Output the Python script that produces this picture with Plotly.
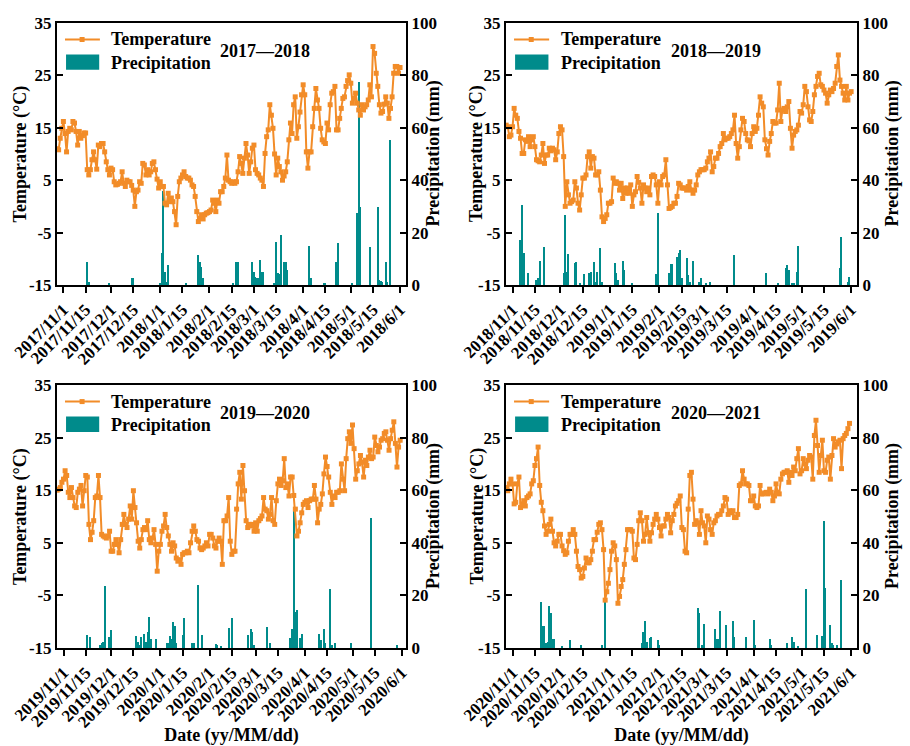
import pandas as pd
import plotly.graph_objects as go

FONT = "Liberation Serif"
ORANGE = "#F28C28"
TEAL = "#008B8B"

# ---------------- data ----------------
season_labels = ["2017—2018", "2018—2019", "2019—2020", "2020—2021"]
season_years = [(2017, 2018), (2018, 2019), (2019, 2020), (2020, 2021)]
series_start = ["2017-10-28", "2018-10-28", "2019-10-28", "2020-10-28"]
axis_ranges = [("2017-10-27 23:00", "2018-06-04 19:00"),
               ("2018-10-27 21:00", "2019-06-04 17:00"),
               ("2019-10-27 21:00", "2020-06-03 17:00"),
               ("2020-10-27 21:00", "2021-06-04 17:00")]

# daily mean temperature (°C), consecutive days from series_start
temp_1718 = [11.0, 10.8, 13.0, 14.9, 16.2, 13.9, 10.4, 14.3, 14.9, 14.6, 16.2, 15.9, 14.3, 11.7, 14.3, 13.0, 13.5, 14.0, 14.0, 7.0,
             6.0, 7.0, 8.9, 10.4, 8.9, 7.1, 11.7, 11.4, 12.0, 12.0, 10.4, 8.5, 7.0, 6.0, 7.3, 7.0, 4.7, 4.1, 4.2, 4.4,
             4.7, 6.6, 4.4, 3.8, 5.0, 4.7, 4.7, 4.0, 3.1, 0.0, 2.8, 3.1, 4.7, 4.4, 8.2, 7.9, 6.0, 7.0, 6.0, 6.6,
             8.2, 8.5, 7.0, 5.2, 3.5, 4.7, 3.8, 3.8, 0.6, 0.3, 2.5, 0.9, 1.6, 0.9, -1.0, -3.5, 1.9, 4.7, 5.4, 6.0,
             6.6, 5.7, 5.4, 5.4, 5.0, 4.1, 3.8, 1.9, -1.0, -2.9, -2.3, -1.6, -2.4, -1.6, -1.3, -1.2, -1.0, -0.7, 1.2, 0.6,
             -1.0, 1.2, 0.6, 2.8, 2.8, 3.8, 5.4,
             9.8, 5.0, 4.7, 4.4, 4.7, 4.4, 4.7, 6.6, 9.5, 8.2, 6.3, 9.2, 12.0, 9.8, 6.3, 8.5, 11.1, 11.7, 7.0, 6.3,
             6.0, 5.4, 5.0, 3.8, 10.1, 13.3, 14.6, 19.4, 17.4, 14.9, 10.0, 6.0, 9.2, 7.6, 6.6, 5.0, 5.8, 6.6, 8.5, 12.7,
             15.9, 13.9, 19.4, 20.9, 13.0, 15.2, 18.0, 21.3, 23.2, 21.3, 10.4, 7.3, 10.4, 10.4, 15.2, 18.7, 22.5, 20.3, 18.7, 14.9,
             12.7, 12.3, 12.0, 15.9, 14.6, 19.4, 21.6, 21.9, 22.9, 14.6, 14.6, 16.8, 18.7, 20.6, 20.9, 22.9, 24.0, 25.1, 23.5, 19.7,
             20.6, 21.6, 19.7, 18.4, 17.4, 19.4, 18.4, 19.0, 19.4, 20.3, 23.2, 20.9, 30.5, 29.2, 25.4, 22.9, 19.4, 17.8, 18.1, 19.5,
             20.9, 19.7, 16.8, 18.7, 20.9, 25.4, 26.7, 26.7, 25.4, 26.5]
temp_1819 = [15.5, 15.2, 13.3, 13.6, 15.2, 18.7, 17.4, 16.8, 14.3, 13.0, 10.1, 10.1, 12.7, 12.4, 13.3, 11.4, 12.7, 13.3, 11.4, 8.9,
             8.7, 8.5, 9.8, 12.0, 8.2, 9.8, 9.8, 11.1, 10.6, 11.1, 10.8, 8.9, 10.4, 13.9, 15.2, 14.6, 9.5, 0.0, 4.7, 2.2,
             0.6, 0.9, 1.2, 4.7, 3.5, 0.6, -0.7, 2.2, 5.4, 5.4, 6.0, 9.5, 10.4, 7.3, 9.5, 9.2, 6.0, 6.0, 6.6, 3.1,
             -2.0, -2.9, -2.3, -1.6, 0.6, 0.6, 0.9, 5.4, 4.4, 4.7, 4.4, 3.1, 4.4, 1.5, 3.5, 2.5, 3.5, 2.5, 4.1, 0.0,
             2.2, 2.8, 5.7, 4.6, 3.5, 0.6, 4.1, 3.5, 2.8, 3.5, 2.2, 5.7, 6.0, 5.7, 4.1, 0.6, 4.7, 4.1, 5.7, 6.0,
             8.9, 4.1, -0.4, -0.2, 0.0, 0.6, 0.6, 1.9, 4.4, 4.1, 3.5, 3.5,
             3.5, 3.1, 3.8, 4.7, 3.1, 2.5, 3.1, 4.1, 6.0, 6.6, 7.0, 7.0, 7.0, 7.3, 8.5, 9.2, 10.4, 6.6, 7.6, 9.2,
             9.2, 10.1, 11.4, 12.0, 13.9, 12.7, 13.0, 13.0, 13.3, 13.9, 14.6, 17.4, 12.0, 9.2, 11.4, 14.6, 16.8, 16.2, 13.9, 12.7,
             12.5, 11.4, 13.9, 15.2, 14.3, 14.9, 17.4, 20.9, 19.7, 19.0, 12.7, 11.0, 9.8, 12.4, 13.9, 16.2, 15.9, 15.9, 18.4, 23.5,
             16.2, 18.4, 18.7, 18.1, 19.0, 20.0, 14.9, 11.1, 13.6, 14.3, 14.6, 15.5, 18.1, 17.8, 19.4, 22.9, 21.9, 19.0, 16.5, 16.2,
             18.1, 21.3, 22.9, 24.8, 25.4, 23.2, 22.9, 22.2, 21.6, 19.7, 21.3, 22.2, 21.9, 22.5, 23.5, 26.7, 28.9, 24.1, 22.9, 21.6,
             20.3, 22.9, 20.3, 21.6, 21.9]
temp_1920 = [15.0, 15.2, 15.5, 16.5, 17.1, 18.7, 17.8, 14.6, 13.6, 15.5, 13.6, 12.0, 11.7, 14.6, 15.2, 15.9, 12.0, 14.9, 17.8, 17.5,
             8.5, 5.6, 7.0, 9.2, 13.6, 13.9, 17.8, 13.6, 6.6, 6.3, 6.1, 5.9, 6.3, 7.2, 3.4, 3.4, 4.7, 5.6, 4.7, 3.1,
             5.6, 8.5, 10.4, 8.5, 7.9, 9.5, 12.0, 9.5, 14.9, 11.7, 8.8, 5.3, 4.0, 5.6, 7.5, 7.9, 7.5, 9.2, 5.6, 5.0,
             5.9, 7.5, 4.7, -0.4, 3.4, 4.7, 7.2, 8.2, 10.4, 7.9, 6.3, 4.7, 3.4, 5.0, 4.4, 2.1, 1.5, 1.8, 0.9, 2.8,
             3.1, 3.1, 3.4, 3.1, 5.0, 7.2, 8.2, 7.2, 5.6, 5.3, 4.0, 3.7, 4.0, 4.4, 5.0, 4.4, 6.6, 6.6, 5.9, 4.4,
             4.0, 5.3, 5.9, 5.3, 0.9, 9.2, 9.2, 10.1,
             13.6, 5.3, 2.8, 3.4, 3.4, 11.4, 16.2, 18.4, 13.3, 19.7, 14.9, 9.2, 7.9, 8.5, 8.2, 8.5, 7.2, 8.8, 7.2, 9.2,
             9.6, 10.1, 13.6, 11.4, 11.1, 9.5, 10.4, 13.6, 9.2, 8.5, 13.0, 16.2, 17.1, 15.9, 16.8, 21.0, 15.5, 16.2, 13.9, 17.5,
             17.5, 14.0, 11.4, 6.3, 7.2, 8.8, 10.7, 12.3, 12.7, 13.0, 11.7, 13.0, 13.3, 13.3, 15.9, 13.3, 8.8, 11.4, 12.3, 14.3,
             18.1, 21.3, 19.5, 17.5, 14.6, 12.3, 13.9, 13.6, 14.6, 14.6, 14.9, 20.0, 17.1, 14.9, 21.0, 24.8, 26.1, 23.9, 27.4, 22.9,
             17.1, 18.7, 20.0, 21.6, 20.3, 17.5, 20.7, 19.7, 21.3, 22.6, 21.0, 21.3, 25.1, 23.5, 22.3, 23.2, 24.5, 24.8, 25.8, 26.1,
             24.5, 22.6, 24.8, 26.4, 28.0, 23.9, 19.4, 23.2, 24.5]
temp_2021 = [15.5, 14.9, 16.2, 17.1, 16.2, 12.4, 12.7, 16.2, 17.5, 11.7, 12.4, 13.0, 12.0, 13.6, 13.9, 14.3, 16.2, 16.8, 19.7, 21.0,
             23.2, 15.9, 12.7, 11.1, 8.2, 6.6, 7.2, 8.5, 9.5, 7.2, 5.0, 4.4, 5.3, 6.6, 6.6, 4.4, 3.5, 2.8, 3.1, 5.3,
             6.6, 6.6, 7.5, 6.6, 3.4, 0.5, -0.1, -1.7, -1.4, 0.2, 2.1, 1.2, 1.2, 1.8, 3.4, 5.6, 5.6, 7.0, 8.5, 8.8,
             7.5, 3.7, -5.9, -4.3, -2.7, -0.1, 3.4, 5.0, 4.4, 1.8, -6.5, -5.2, -3.3, -2.0, 0.9, 3.7, 7.5, 7.5, 7.5, 7.2,
             2.1, 1.8, 4.7, 9.2, 10.7, 9.2, 5.3, 6.6, 9.8, 6.9, 5.3, 6.9, 8.5, 9.5, 10.4, 9.5, 7.9, 6.3, 8.2, 8.2,
             9.5, 10.4, 9.8, 6.9, 9.2, 10.4, 12.0, 12.5, 13.0, 13.9, 7.9,
             7.5, 3.4, 3.1, 11.4, 17.8, 18.4, 13.3, 8.5, 9.2, 8.8, 6.6, 11.1, 8.8, 8.2, 5.0, 10.1, 9.5, 7.5, 6.6, 8.8,
             9.2, 10.1, 10.4, 10.4, 11.1, 12.0, 13.6, 13.3, 10.4, 11.1, 10.7, 11.1, 9.8, 9.8, 10.4, 15.9, 16.2, 18.7, 17.1, 16.2,
             16.2, 15.9, 13.0, 13.0, 13.9, 12.0, 11.7, 12.0, 15.9, 14.3, 14.3, 14.5, 14.6, 14.3, 15.2, 14.6, 13.0, 13.9, 16.2, 14.6,
             14.3, 17.1, 18.1, 18.4, 18.4, 18.7, 16.5, 18.4, 17.8, 19.4, 18.7, 21.0, 22.9, 18.1, 18.7, 21.0, 20.0, 19.1, 20.7, 21.6,
             21.3, 17.1, 25.4, 28.3, 23.5, 18.4, 21.6, 24.5, 18.7, 18.4, 20.7, 21.3, 17.1, 21.6, 24.8, 23.2, 23.8, 24.2, 24.5, 19.1,
             24.8, 25.4, 25.8, 26.7, 27.7]

# daily precipitation: day offset from series_start, amount (mm)
rain_day_1718 = [19, 20, 33, 47, 48, 65, 66, 67, 68, 69, 70, 81, 89, 90, 91, 92, 111, 113, 114, 123, 124, 125, 126, 127, 128, 129, 130,
                 137, 138, 139, 140, 141, 143, 144, 145, 159, 160, 168, 169, 176, 177, 186, 189, 190, 191, 197, 202, 203, 204, 205,
                 207, 208, 210]
rain_mm_1718 = [8.9, 1.3, 0.6, 2.5, 2.5, 0.6, 12.1, 36.0, 5.1, 1.3, 7.6, 0.6, 11.5, 8.9, 6.8, 2.5, 0.6, 8.9, 8.9, 8.7, 5.1, 3.2, 2.5, 2.5,
                9.5, 5.1, 4.9, 0.6, 16.6, 4.5, 4.1, 19.1, 8.9, 8.9, 5.7, 15.0, 2.5, 0.6, 0.6, 8.9, 16.2, 0.6, 27.4, 77.6, 29.9, 14.6,
                29.9, 1.9, 1.7, 1.3, 8.9, 1.3, 55.3]
rain_day_1819 = [9, 10, 11, 14, 19, 20, 21, 24, 36, 37, 38, 39, 43, 44, 46, 49, 52, 53, 55, 56, 57, 59, 60, 68, 69, 70, 73, 74, 79, 94,
                 95, 102, 103, 104, 107, 108, 109, 110, 113, 114, 115, 117, 121, 122, 125, 128, 143, 163, 170, 175, 176, 177, 179,
                 180, 182, 183, 209, 210, 214, 215]
rain_mm_1819 = [17.2, 30.5, 12.1, 4.5, 1.9, 2.5, 9.2, 14.6, 4.5, 26.7, 5.1, 11.7, 8.3, 8.9, 0.6, 4.1, 4.5, 5.1, 8.9, 1.3, 5.1, 14.0,
                1.3, 8.3, 4.5, 1.9, 9.2, 5.7, 0.6, 4.1, 27.4, 4.5, 7.9, 7.9, 10.8, 12.1, 13.4, 2.5, 10.2, 3.8, 1.3, 9.2, 1.3, 2.5,
                0.6, 1.0, 11.5, 4.5, 0.6, 6.6, 7.6, 5.7, 0.9, 0.9, 5.1, 15.0, 6.4, 18.5, 1.3, 3.2]
rain_day_1920 = [19, 21, 27, 28, 29, 30, 33, 34, 50, 51, 52, 53, 55, 56, 57, 58, 59, 62, 69, 70, 71, 72, 73, 74, 75, 79, 80, 85, 86,
                 89, 91, 100, 101, 103, 108, 110, 120, 122, 123, 124, 132, 134, 147, 148, 149, 150, 151, 153, 154, 165, 166, 168,
                 169, 172, 173, 175, 185, 198, 214]
rain_mm_1920 = [4.9, 4.2, 1.0, 1.7, 2.3, 23.4, 4.2, 6.8, 4.6, 2.3, 1.0, 4.2, 5.5, 2.3, 6.1, 11.9, 3.6, 3.6, 1.7, 1.7, 4.6, 3.6, 9.7,
                8.4, 1.7, 4.9, 11.3, 1.7, 1.9, 23.8, 4.9, 1.4, 1.0, 0.4, 7.7, 11.3, 4.9, 7.4, 6.1, 1.0, 8.0, 1.7, 3.8, 7.4, 53.7,
                13.8, 14.4, 3.8, 5.5, 5.5, 2.9, 7.4, 1.7, 22.5, 1.3, 1.7, 1.7, 49.3, 1.3]
rain_day_2021 = [22, 23, 24, 25, 26, 27, 28, 29, 30, 35, 40, 47, 60, 62, 85, 86, 87, 88, 90, 91, 95, 96, 120, 121, 123, 124, 131,
                 132, 133, 134, 138, 142, 143, 150, 155, 156, 165, 166, 176, 179, 180, 183, 188, 195, 198, 199, 200, 203, 204,
                 205, 207, 210]
rain_mm_2021 = [17.4, 8.4, 8.4, 1.7, 2.3, 16.1, 13.2, 3.6, 3.6, 0.4, 2.9, 1.0, 1.0, 17.4, 1.7, 6.1, 10.2, 2.3, 3.8, 4.2, 2.9, 1.0,
                15.3, 13.2, 1.0, 9.3, 7.4, 3.6, 3.6, 14.2, 8.7, 10.2, 4.2, 4.2, 10.6, 1.0, 3.3, 1.0, 1.7, 4.2, 2.3, 0.4, 22.4,
                5.1, 4.5, 48.1, 22.8, 8.7, 1.7, 1.0, 1.3, 25.9]

temps = [temp_1718, temp_1819, temp_1920, temp_2021]
rain_days = [rain_day_1718, rain_day_1819, rain_day_1920, rain_day_2021]
rain_mm = [rain_mm_1718, rain_mm_1819, rain_mm_1920, rain_mm_2021]

# tick labels
date_ticks_first = ["11/1", "11/15", "12/1", "12/15"]
date_ticks_second = ["1/1", "1/15", "2/1", "2/15", "3/1", "3/15", "4/1", "4/15", "5/1", "5/15", "6/1"]
temp_tickvals = [-15, -5, 5, 15, 25, 35]
temp_ticktext = ["-15", "-5", "5", "15", "25", "35"]
rain_tickvals = [0, 20, 40, 60, 80, 100]
rain_ticktext = ["0", "20", "40", "60", "80", "100"]

# ---------------- layout geometry ----------------
x_domains = [(0.0626, 0.4462), (0.5560, 0.9418), (0.0626, 0.4462), (0.5560, 0.9418)]
y_domains = [(0.6180, 0.9692), (0.6180, 0.9692), (0.1314, 0.4839), (0.1314, 0.4839)]
left_title_x = [0.0225, 0.5242, 0.0225, 0.5242]
right_title_x = [0.4764, 0.9808, 0.4764, 0.9808]

bold = dict(family=FONT, color="black", weight="bold")

fig = go.Figure()
layout = dict(width=910, height=746, margin=dict(l=0, r=0, t=0, b=0),
              plot_bgcolor="white", paper_bgcolor="white", showlegend=False,
              bargap=0, font=dict(family=FONT, color="black"))
shapes = []
annotations = []

for i in range(4):
    xa = "x" if i == 0 else f"x{i + 1}"
    yp = "y" if i == 0 else f"y{2 * i + 1}"
    yt = f"y{2 * i + 2}"
    xkey = "xaxis" if i == 0 else f"xaxis{i + 1}"
    ypkey = "yaxis" if i == 0 else f"yaxis{2 * i + 1}"
    ytkey = f"yaxis{2 * i + 2}"
    y1, y2 = season_years[i]

    t_dates = pd.date_range(series_start[i], periods=len(temps[i]), freq="D")
    r_dates = pd.to_datetime(series_start[i]) + pd.to_timedelta(rain_days[i], unit="D")

    fig.add_trace(go.Bar(x=r_dates, y=rain_mm[i], xaxis=xa, yaxis=yp, name="Precipitation",
                         marker=dict(color=TEAL, line=dict(width=0)), width=0.8 * 86400000))
    fig.add_trace(go.Scatter(x=t_dates, y=temps[i], xaxis=xa, yaxis=yt, name="Temperature",
                             mode="lines+markers", line=dict(color=ORANGE, width=2),
                             marker=dict(symbol="square", size=5, color=ORANGE)))

    tickvals = [f"{y1}-{md.split('/')[0].zfill(2)}-{md.split('/')[1].zfill(2)}" for md in date_ticks_first] + \
               [f"{y2}-{md.split('/')[0].zfill(2)}-{md.split('/')[1].zfill(2)}" for md in date_ticks_second]
    ticktext = [f"{y1}/{md}" for md in date_ticks_first] + [f"{y2}/{md}" for md in date_ticks_second]

    layout[xkey] = dict(type="date", domain=list(x_domains[i]), anchor=yp, range=list(axis_ranges[i]),
                        tickmode="array", tickvals=tickvals, ticktext=ticktext, tickangle=-45,
                        ticks="outside", ticklen=6, tickwidth=2, tickcolor="black",
                        showline=True, linewidth=2, linecolor="black", mirror=True,
                        showgrid=False, zeroline=False, automargin=False,
                        tickfont=dict(size=17, **bold))
    if i >= 2:
        layout[xkey]["title"] = dict(text="Date (yy/MM/dd)", font=dict(size=18, **bold), standoff=2)
    layout[ypkey] = dict(domain=list(y_domains[i]), anchor=xa, side="right", range=[0, 100],
                         tickmode="array", tickvals=rain_tickvals, ticktext=rain_ticktext,
                         ticks="inside", ticklen=6, tickwidth=2, tickcolor="black",
                         showline=True, linewidth=2, linecolor="black",
                         showgrid=False, zeroline=False, automargin=False,
                         tickfont=dict(size=17, **bold))
    layout[ytkey] = dict(overlaying=yp, anchor=xa, side="left", range=[-15, 35],
                         tickmode="array", tickvals=temp_tickvals, ticktext=temp_ticktext,
                         ticks="inside", ticklen=6, tickwidth=2, tickcolor="black",
                         showline=True, linewidth=2, linecolor="black",
                         showgrid=False, zeroline=False, automargin=False,
                         tickfont=dict(size=17, **bold))

    ymid = (y_domains[i][0] + y_domains[i][1]) / 2
    annotations.append(dict(xref="paper", yref="paper", x=left_title_x[i], y=ymid, textangle=-90,
                            xanchor="center", yanchor="middle", showarrow=False,
                            text="Temperature (°C)", font=dict(size=18, **bold)))
    annotations.append(dict(xref="paper", yref="paper", x=right_title_x[i], y=ymid, textangle=-90,
                            xanchor="center", yanchor="middle", showarrow=False,
                            text="Precipitation (mm)", font=dict(size=18, **bold)))

    xr = f"{xa} domain"
    yr = f"{yp} domain"
    # hand-drawn legend
    shapes.append(dict(type="line", xref=xr, yref=yr, x0=0.023, x1=0.123, y0=0.937, y1=0.937,
                       line=dict(color=ORANGE, width=2)))
    shapes.append(dict(type="rect", xref=xr, yref=yr, xsizemode="pixel", ysizemode="pixel",
                       xanchor=0.072, yanchor=0.937, x0=-2.5, x1=2.5, y0=-2.5, y1=2.5,
                       fillcolor=ORANGE, line=dict(width=0)))
    shapes.append(dict(type="rect", xref=xr, yref=yr, x0=0.026, x1=0.121, y0=0.821, y1=0.880,
                       fillcolor=TEAL, line=dict(width=0)))
    annotations.append(dict(xref=xr, yref=yr, x=0.150, y=0.937, xanchor="left", yanchor="middle",
                            text="Temperature", showarrow=False, font=dict(size=18, **bold)))
    annotations.append(dict(xref=xr, yref=yr, x=0.150, y=0.848, xanchor="left", yanchor="middle",
                            text="Precipitation", showarrow=False, font=dict(size=18, **bold)))
    annotations.append(dict(xref=xr, yref=yr, x=0.597, y=0.893, xanchor="center", yanchor="middle",
                            text=season_labels[i], showarrow=False, font=dict(size=18, **bold)))

layout["shapes"] = shapes
layout["annotations"] = annotations
fig.update_layout(**layout)
fig.write_html("out.html")
